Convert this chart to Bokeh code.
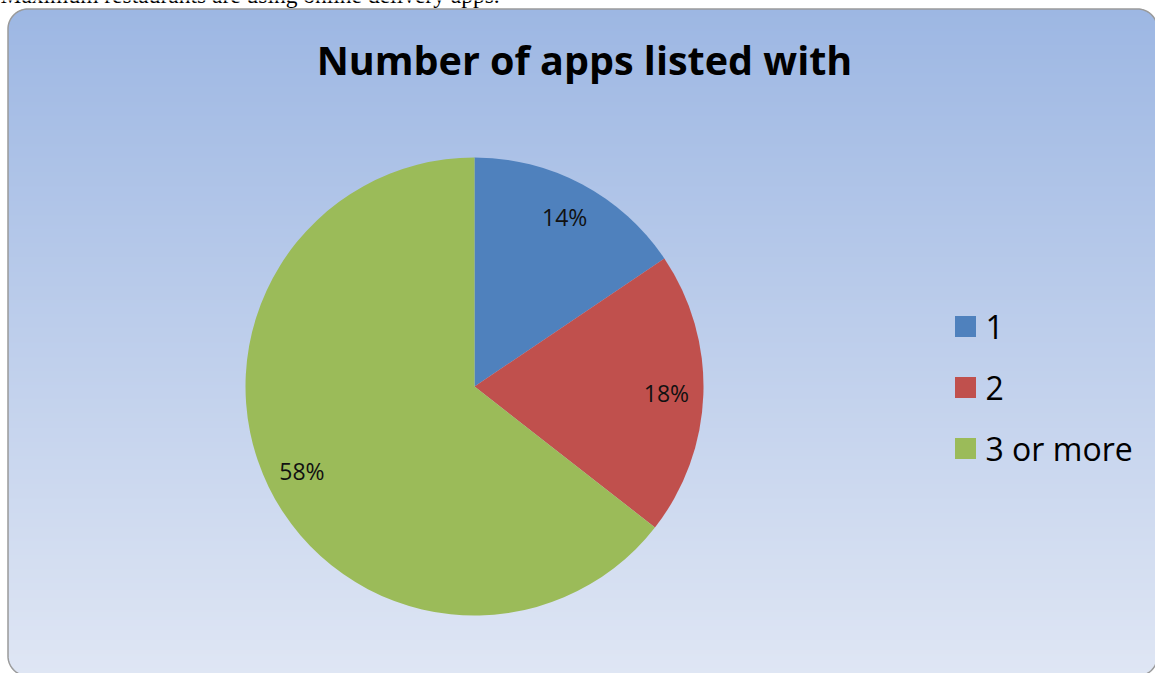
import numpy as np
from bokeh.plotting import figure
from bokeh.models import Range1d, ColumnDataSource
from bokeh.core.properties import value
from bokeh.embed import file_html
from bokeh.resources import INLINE

# ---- data ----
caption_text = "Maximum restaurants are using online delivery apps."
title_text = "Number of apps listed with"
categories = ["1", "2", "3 or more"]
values = [14, 18, 58]
pct_labels = ["14%", "18%", "58%"]
colors = ["#4F81BD", "#C0504D", "#9BBB59"]

# ---- canvas ----
W, H = 1155, 673
p = figure(width=W, height=H, x_range=Range1d(0, W), y_range=Range1d(0, H),
           output_backend="svg", toolbar_location=None, min_border=0)
p.axis.visible = False
p.grid.visible = False
p.outline_line_color = None
p.background_fill_color = "white"
p.border_fill_color = "white"

# ---- cut-off caption above the chart ----
p.text(x=[0], y=[679], text=[caption_text], text_align="left",
       text_baseline="middle", text_font=value("Liberation Serif"),
       text_font_size="23.5px", text_color="#000000")

# ---- rounded gradient chart area ----
top_c = np.array([157, 183, 227], float)
bot_c = np.array([223, 230, 244], float)
R = 20.0
x0, x1 = 7.5, 1157.0
ytop, nrows = 664.5, 667
lefts, rights, bots, tops, fills = [], [], [], [], []
for k in range(nrows):
    t = k / (nrows - 1)
    c = top_c + (bot_c - top_c) * t
    d = min(k + 0.5, nrows - k - 0.5)
    inset = 0.0
    if d < R:
        inset = R - np.sqrt(max(R * R - (R - d) ** 2, 0.0))
    lefts.append(x0 + inset)
    rights.append(x1 - inset)
    tops.append(ytop - k)
    bots.append(ytop - k - 1.6)
    fills.append("#%02x%02x%02x" % tuple(int(round(v)) for v in c))
p.quad(left=lefts, right=rights, bottom=bots, top=tops, fill_color=fills, line_color=None)

# border outline
ybot = ytop - nrows
pts_x, pts_y = [], []
def arc(cx, cy, a0, a1):
    for a in np.linspace(a0, a1, 20):
        pts_x.append(cx + R * np.cos(a)); pts_y.append(cy + R * np.sin(a))
arc(x0 + R, ybot + R, np.pi * 1.5, np.pi)
arc(x0 + R, ytop - R, np.pi, np.pi / 2)
arc(x1 - R, ytop - R, np.pi / 2, 0)
arc(x1 - R, ybot + R, 0, -np.pi / 2)
p.line(pts_x, pts_y, line_color="#9a9a9a", line_width=1.5)

# ---- pie ----
cx, cy, r = 474.0, 287.0, 229.0
vals = np.array(values, float)
frac = vals / vals.sum()
cum = np.concatenate([[0], np.cumsum(frac)])
start = np.pi / 2 - 2 * np.pi * cum[:-1]
end = np.pi / 2 - 2 * np.pi * cum[1:]
mid = (start + end) / 2
src = ColumnDataSource(dict(start=start, end=end, color=colors,
                            lx=cx + 192 * np.cos(mid), ly=cy + 192 * np.sin(mid),
                            lab=pct_labels))
p.wedge(x=cx, y=cy, radius=r, start_angle="start", end_angle="end",
        direction="clock", fill_color="color", line_color=None, source=src)
p.text(x="lx", y="ly", text="lab", source=src, text_align="center",
       text_baseline="middle", text_font=value("Open Sans"),
       text_font_size="23px", text_color="#111111")

# ---- title ----
p.text(x=[584], y=[614], text=[title_text], text_align="center",
       text_baseline="middle", text_font=value("Open Sans"),
       text_font_style="bold", text_font_size="39.5px", text_color="#000000")

# ---- legend ----
idx = np.arange(len(categories))
lsrc = ColumnDataSource(dict(y=347 - 61 * idx, cat=categories, color=colors))
p.rect(x=965, y="y", width=21, height=21, fill_color="color", line_color=None, source=lsrc)
p.text(x=985, y="y", text="cat", source=lsrc, text_align="left",
       text_baseline="middle", text_font=value("Open Sans"),
       text_font_size="32px", text_color="#000000")

open("out.html", "w").write(file_html(p, INLINE))
